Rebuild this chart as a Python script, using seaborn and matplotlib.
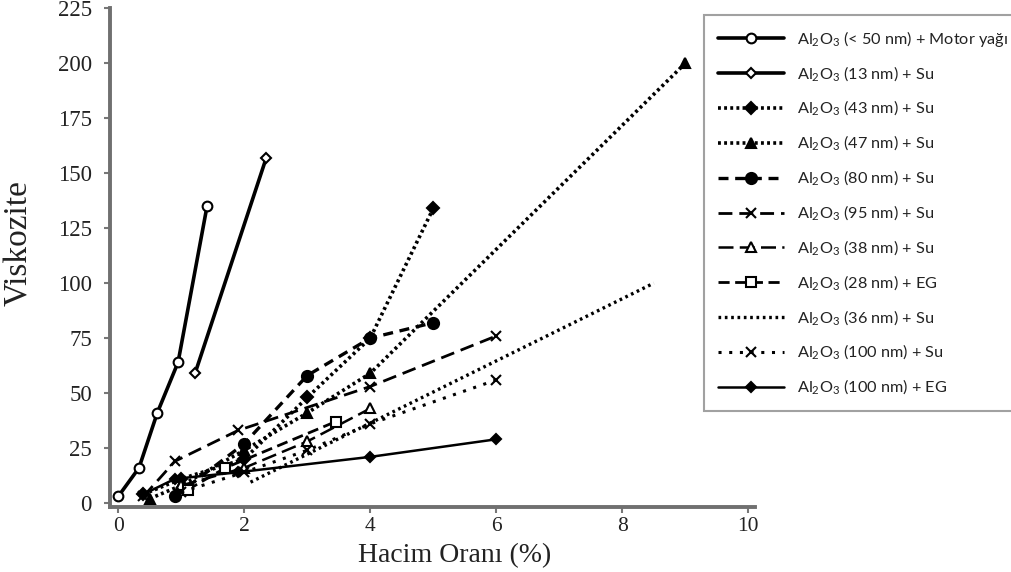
import matplotlib
matplotlib.use("Agg")
import matplotlib.pyplot as plt
from matplotlib.font_manager import FontProperties
import seaborn as sns

sns.set_theme(style="white")
plt.rcParams["font.family"] = ["Liberation Serif", "DejaVu Serif"]

# Volume fraction (%) and viscosity of Al2O3 nanofluids
x_motor = [0.0, 0.33, 0.62, 0.95, 1.41]
y_motor = [3, 16, 41, 64, 135]
x_13 = [1.22, 2.35]
y_13 = [59, 157]
x_43 = [0.4, 1.0, 2.0, 3.0, 4.0, 5.0]
y_43 = [4, 11, 20, 48, 75, 134]
x_47 = [0.5, 1.0, 2.0, 3.0, 4.0, 9.0]
y_47 = [2, 8, 24, 41, 59, 200]
x_80 = [0.9, 2.0, 3.0, 4.0, 5.0]
y_80 = [3, 27, 58, 75, 82]
x_95 = [0.4, 0.9, 1.9, 4.0, 6.0]
y_95 = [3, 19, 33, 53, 76]
x_38 = [1.0, 2.0, 3.0, 4.0]
y_38 = [8, 16, 28, 43]
x_28eg = [1.1, 1.7, 3.45]
y_28eg = [6, 16, 37]
x_36 = [2.1, 8.5]
y_36 = [9.5, 100]
x_100 = [1.0, 2.0, 3.0, 4.0, 6.0]
y_100 = [5, 14, 24, 36, 56]
x_100eg = [0.4, 0.9, 1.9, 4.0, 6.0]
y_100eg = [4, 11, 14, 21, 29]

AL = r"Al$_{\mathregular{2}}$O$_{\mathregular{3}}$"
labels = [
    AL + " (< 50 nm) + Motor yağı",
    AL + " (13 nm) + Su",
    AL + " (43 nm) + Su",
    AL + " (47 nm) + Su",
    AL + " (80 nm) + Su",
    AL + " (95 nm) + Su",
    AL + " (38 nm) + Su",
    AL + " (28 nm) + EG",
    AL + " (36 nm) + Su",
    AL + " (100 nm) + Su",
    AL + " (100 nm) + EG",
]
xs = [x_motor, x_13, x_43, x_47, x_80, x_95, x_38, x_28eg, x_36, x_100, x_100eg]
ys = [y_motor, y_13, y_43, y_47, y_80, y_95, y_38, y_28eg, y_36, y_100, y_100eg]

# line style, line width, marker, marker size, marker face
styles = [
    ("-", 2.6, "o", 7, "white"),
    ("-", 2.6, "D", 5, "white"),
    ((0, (0.8, 0.9)), 2.6, "D", 6, "black"),
    ((0, (0.8, 0.9)), 2.6, "^", 7, "black"),
    ((0, (3, 2)), 2.4, "o", 8, "black"),
    ((0, (5, 2.5)), 2.0, "x", 7, "black"),
    ((0, (6, 2.5)), 1.8, "^", 7, "white"),
    ((0, (4, 2)), 2.0, "s", 7, "white"),
    ((0, (0.8, 1.1)), 2.4, None, 0, "black"),
    ((0, (1, 2.5)), 2.2, "x", 7, "black"),
    ("-", 1.8, "D", 5, "black"),
]

fig = plt.figure(figsize=(10.12, 5.72), dpi=100)
ax = fig.add_axes([0.1087, 0.1136, 0.637, 0.872])

for x, y, lab, (ls, lw, mk, ms, mfc) in zip(xs, ys, labels, styles):
    sns.lineplot(x=x, y=y, ax=ax, color="black", linestyle=ls, linewidth=lw,
                 marker=mk, markersize=ms, markerfacecolor=mfc,
                 markeredgecolor="black", markeredgewidth=1.5,
                 estimator=None, sort=False, label=lab)

ax.set_xlim(-0.13, 10.1)
ax.set_ylim(-1.8, 225)
ax.set_xticks([0, 2, 4, 6, 8, 10])
ax.set_yticks(range(0, 226, 25))

for side in ("top", "right"):
    ax.spines[side].set_visible(False)
for side in ("left", "bottom"):
    ax.spines[side].set_color("#707070")
    ax.spines[side].set_linewidth(2.8)

ax.tick_params(axis="both", which="major", colors="#777777",
               labelcolor="#222222", length=4, width=1.5, direction="out")
ax.tick_params(axis="y", pad=9, left=True, labelsize=16.5)
ax.tick_params(axis="x", pad=3, bottom=True, labelsize=15.5)

ax.set_xlabel("Hacim Oranı (%)", fontsize=20, color="#222222")
ax.set_ylabel("Viskozite", fontsize=24, color="#222222")
ax.xaxis.set_label_coords(0.535, -0.072)
ax.yaxis.set_label_coords(-0.118, 0.53)

handles, labs = ax.get_legend_handles_labels()
ax.get_legend().remove()
leg = fig.legend(handles, labs, loc="upper left",
                 bbox_to_anchor=(704 / 1012, 1 - 15 / 572),
                 frameon=True, fancybox=False, edgecolor="#8a8a8a",
                 prop=FontProperties(family=["Lato", "DejaVu Sans"], size=11.7),
                 handlelength=4.1, handletextpad=0.8, labelspacing=0.95,
                 borderpad=0.85, borderaxespad=0)
leg.get_frame().set_linewidth(1.5)
for t in leg.get_texts():
    t.set_color("#222222")

fig.savefig("out.png", dpi=100)
